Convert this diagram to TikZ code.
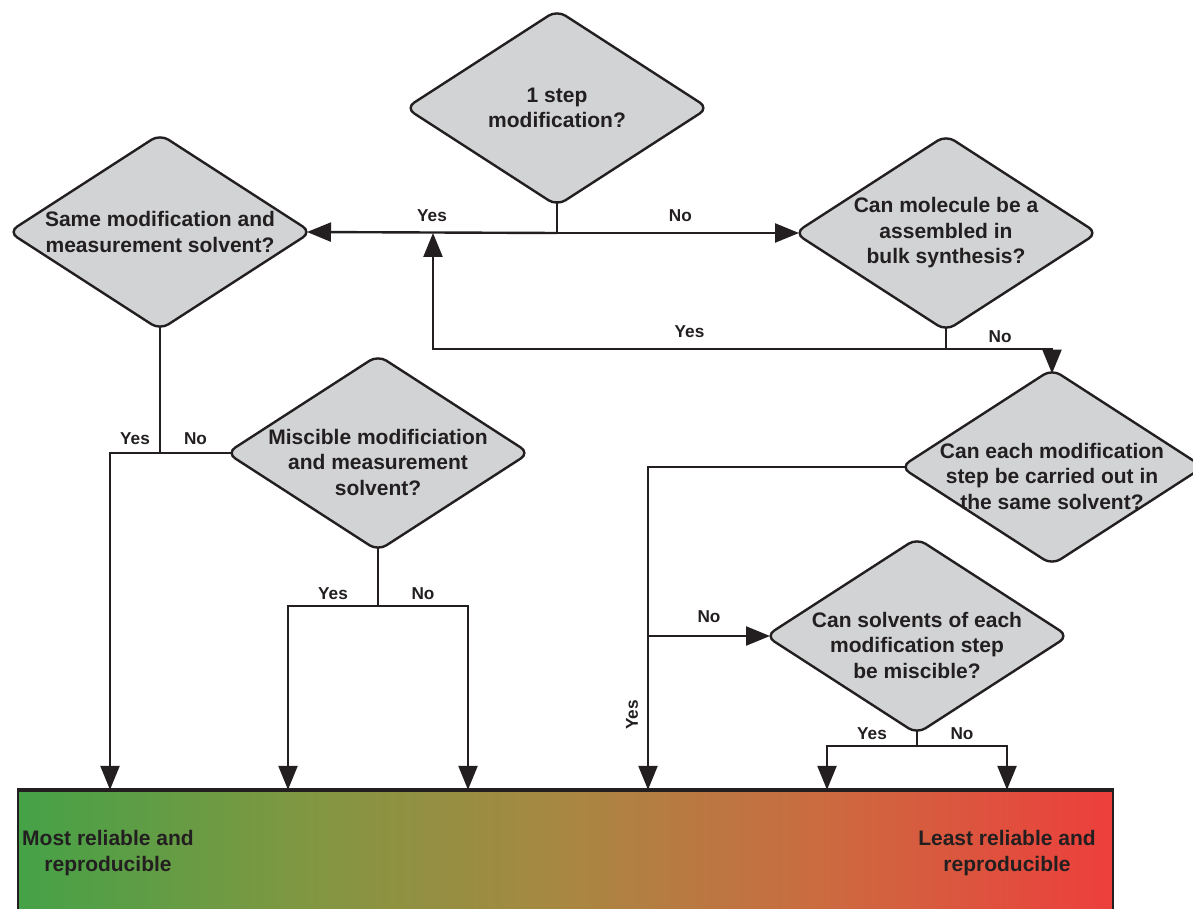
\documentclass[tikz,border=0pt]{standalone}
\usepackage{fontspec}
\setmainfont{Liberation Sans}
\usetikzlibrary{arrows.meta}
\usetikzlibrary{shapes.geometric}
\usetikzlibrary{positioning}

\definecolor{qgray}{RGB}{209,211,212}
\definecolor{ink}{RGB}{35,31,32}
\pgfdeclarehorizontalshading{reliable}{100bp}{rgb(0bp)=(0.27,0.635,0.28); rgb(25bp)=(0.27,0.635,0.28); rgb(38.5bp)=(0.51,0.59,0.255); rgb(50bp)=(0.66,0.53,0.26); rgb(62bp)=(0.80,0.415,0.25); rgb(75bp)=(0.93,0.245,0.235); rgb(100bp)=(0.93,0.245,0.235)}

% pushes a three line question a bit lower in its diamond
\newcommand{\topgap}{\rule{0pt}{17pt}}

\tikzset{
    quest/.style = {diamond, draw=ink, fill=qgray, line width=1.2pt, rounded corners=5pt,
        shape aspect=1.55, inner sep=-8pt, outer sep=-1.5pt,
        minimum width=150pt, minimum height=96.5pt, align=center,
        font=\fontsize{10.5}{12.75}\selectfont\bfseries},
    ans/.style = {inner sep=0pt, font=\fontsize{8.6}{10}\selectfont\bfseries},
    reach/.style = {inner sep=0pt, align=center, font=\fontsize{10.5}{13}\selectfont\bfseries},
    flow/.style = {-{Triangle[length=12pt,width=9.5pt]}}
}

\begin{document}
\begin{tikzpicture}[x=0.5pt, y=-0.5pt, line width=1.2pt, draw=ink, text=ink]
    \useasboundingbox (0,0) rectangle (1193,909);

    % scale bar
    \begin{scope}
    \clip (0,0) rectangle (1193,909);
    \node[draw, shading=reliable, minimum width=547.5pt, minimum height=69pt, inner sep=0pt] (scale) at (565.5,860) {};
    \end{scope}
    \draw[line width=1.7pt] (scale.north west) -- (scale.north east);
    \node[reach] (most) at (108,853) {Most reliable and\\reproducible};
    \node[reach] (least) at (1007,853) {Least reliable and\\reproducible};

    % questions
    \node[quest] (onestep) at (557,108) {1 step\\modification?};
    \node[quest] (same) at (160,232) {Same modification and\\measurement solvent?};
    \node[quest] (bulk) at (946,233) {Can molecule be a\\assembled in\\bulk synthesis?};
    \node[quest] (mix) at (378,453) {\topgap Miscible modificiation\\and measurement\\solvent?};
    \node[quest] (each) at (1052,467) {\topgap Can each modification\\step be carried out in\\the same solvent?};
    \node[quest] (solv) at (917,636) {\topgap Can solvents of each\\modification step\\be miscible?};

    % junctions and drop points
    \coordinate (j1) at (onestep.south |- 0,233);
    \coordinate (back) at (433,233);
    \coordinate (j2) at (bulk.south |- 0,349);
    \coordinate (j3) at (same.south |- mix.west);
    \coordinate (j4) at (648,636);
    \coordinate (j5) at (solv.south |- 0,746);
    \coordinate (j6) at (mix.south |- 0,606);
    \coordinate (in1) at (scale.north -| 110,0);
    \coordinate (in2) at (scale.north -| 288,0);
    \coordinate (in3) at (scale.north -| 468,0);
    \coordinate (in4) at (scale.north -| 648,0);
    \coordinate (in5) at (scale.north -| 827,0);
    \coordinate (in6) at (scale.north -| 1007,0);

    % connectors
    \draw (onestep.south) -- (j1);
    \draw[flow] (j1) -- (same.east) node[ans, above=5pt, pos=.5] (y1) {Yes};
    \draw[flow] (j1) -- (bulk.west) node[ans, above=5pt, pos=.51] (n1) {No};

    \draw (bulk.south) -- (j2);
    \draw[flow] (j2) -| (back) node[ans, above=5pt, pos=.25] (y2) {Yes};
    \draw[flow] (j2) -| (each.north) node[ans, above=2.5pt, pos=.255] (n2) {No};

    \draw (same.south) -- (j3) -- (mix.west) node[ans, above=3.5pt, pos=.5] (n3) {No};
    \draw[flow] (j3) -| (in1) node[ans, above=3.5pt, pos=.25] (y3) {Yes};

    \draw (mix.south) -- (j6);
    \draw[flow] (j6) -| (in2) node[ans, above=2.5pt, pos=.25] (y6) {Yes};
    \draw[flow] (j6) -| (in3) node[ans, above=2.5pt, pos=.25] (n6) {No};

    \draw[flow] (each.west) -| (in4);
    \node[ans, rotate=90] (y4) at (632,715) {Yes};
    \draw[flow] (j4) -- (solv.west) node[ans, above=6pt, pos=.5] (n4) {No};

    \draw (solv.south) -- (j5);
    \draw[flow] (j5) -| (in5) node[ans, above=2.5pt, pos=.25] (y5) {Yes};
    \draw[flow] (j5) -| (in6) node[ans, above=2.5pt, pos=.25] (n5) {No};
\end{tikzpicture}
\end{document}
